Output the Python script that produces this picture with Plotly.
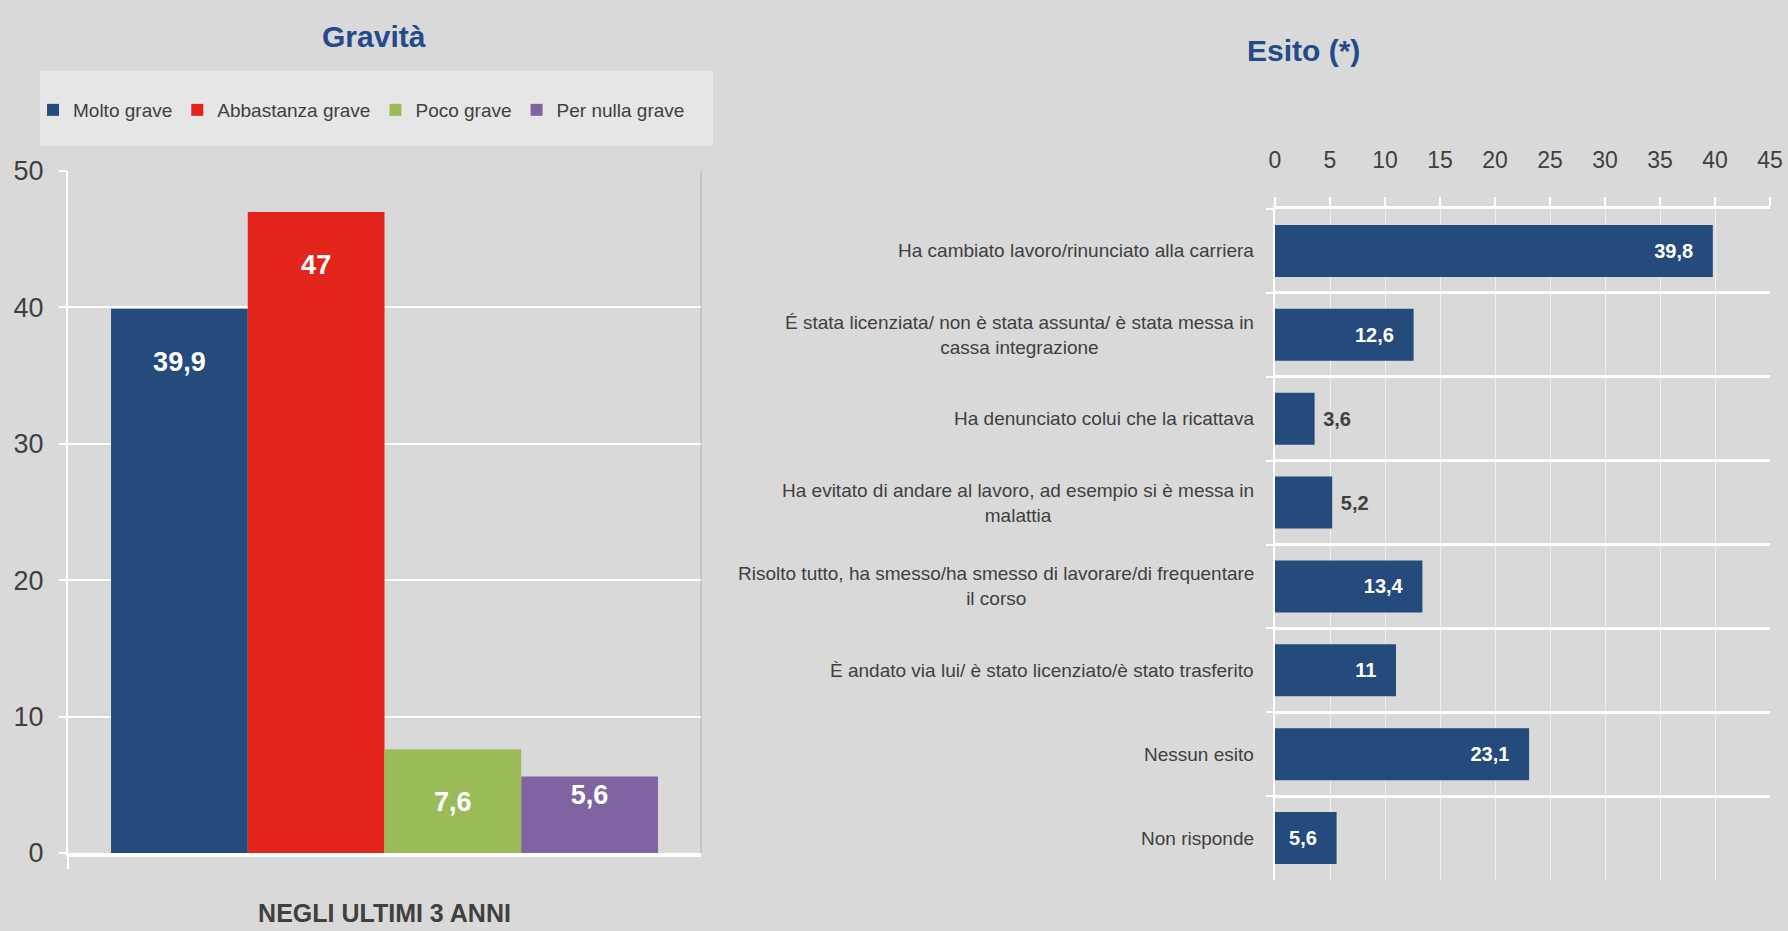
import plotly.graph_objects as go

# ---------------- data ----------------
gravita_series = ["Molto grave", "Abbastanza grave", "Poco grave", "Per nulla grave"]
gravita_values = [39.9, 47.0, 7.6, 5.6]
gravita_period = ["NEGLI ULTIMI 3 ANNI"]

esito_categories = [
    "Ha cambiato lavoro/rinunciato alla carriera",
    "É stata licenziata/ non è stata assunta/ è stata messa in<br>cassa integrazione",
    "Ha denunciato colui che la ricattava",
    "Ha evitato di andare al lavoro, ad esempio si è messa in<br>malattia",
    "Risolto tutto, ha smesso/ha smesso di lavorare/di frequentare<br>il corso",
    "È andato via lui/ è stato licenziato/è stato trasferito",
    "Nessun esito",
    "Non risponde",
]
esito_values = [39.8, 12.6, 3.6, 5.2, 13.4, 11.0, 23.1, 5.6]
esito_label_outside = [False, False, True, True, False, False, False, False]

# ---------------- styles ----------------
FONT = "Liberation Sans, Arial, sans-serif"
BG = "#d9d9d9"
TXT = "#404040"
TITLE = "#234b8c"
colors = ["#254a7c", "#e3241b", "#9bbb59", "#8064a2"]
W, H = 1788, 931


def it(v):
    s = f"{v:.1f}".replace(".", ",")
    return s[:-2] if s.endswith(",0") else s


fig = go.Figure()

for name, val, col in zip(gravita_series, gravita_values, colors):
    lbl = it(val)
    txt = ("\u00a0<br>" + lbl) if val > 7 else lbl
    fig.add_trace(go.Bar(
        x=gravita_period, y=[val], name=name, marker=dict(color=col, line=dict(width=0)),
        text=[txt], textposition="inside", insidetextanchor="end", textangle=0,
        constraintext="none",
        textfont=dict(family=FONT, size=27, color="white", weight="bold"),
        xaxis="x", yaxis="y", hoverinfo="skip",
    ))

e_text = ["\u00a0" + it(v) if out else it(v) + "\u00a0\u00a0\u00a0"
          for v, out in zip(esito_values, esito_label_outside)]
e_pos = ["outside" if out else "inside" for out in esito_label_outside]
e_col = [TXT if out else "white" for out in esito_label_outside]
fig.add_trace(go.Bar(
    x=esito_values, y=esito_categories, orientation="h", width=0.62,
    marker=dict(color=colors[0], line=dict(width=0)),
    text=e_text, textposition=e_pos, insidetextanchor="end", textangle=0,
    constraintext="none", cliponaxis=False,
    textfont=dict(family=FONT, size=20, color=e_col, weight="bold"),
    showlegend=False, xaxis="x2", yaxis="y2", hoverinfo="skip",
))

# category labels of the right chart (right-aligned block, centred lines)
annotations = []
for cat in esito_categories:
    annotations.append(dict(
        x=1256 / W, xref="paper", xanchor="right", y=cat, yref="y2", yanchor="middle",
        text=cat, align="center", showarrow=False,
        font=dict(family=FONT, size=19, color=TXT),
    ))
annotations.append(dict(x=374 / W, y=1 - 36 / H, xref="paper", yref="paper", xanchor="center",
                        yanchor="middle", text="Gravità", showarrow=False,
                        font=dict(family=FONT, size=30, color=TITLE, weight="bold")))
annotations.append(dict(x=1303 / W, y=1 - 51 / H, xref="paper", yref="paper", xanchor="center",
                        yanchor="middle", text="Esito (*)", showarrow=False,
                        font=dict(family=FONT, size=30, color=TITLE, weight="bold")))

shapes = [
    dict(type="rect", xref="paper", yref="paper", x0=40 / W, x1=713 / W, y0=1 - 146 / H, y1=1 - 71 / H,
         fillcolor="#e6e6e6", line=dict(width=0), layer="below"),
    dict(type="line", xref="paper", yref="paper", x0=701 / W, x1=701 / W, y0=1 - 853 / H, y1=1 - 171 / H,
         line=dict(color="#bdbdbd", width=1.5), layer="below"),
]

fig.update_layout(
    width=W, height=H, margin=dict(l=0, r=0, t=0, b=0, autoexpand=False),
    paper_bgcolor=BG, plot_bgcolor=BG,
    font=dict(family=FONT, color=TXT),
    barmode="group", bargap=0.136, bargroupgap=0,
    showlegend=True,
    legend=dict(orientation="h", x=33 / W, y=1 - 110 / H, xanchor="left", yanchor="middle",
                bgcolor="rgba(0,0,0,0)", font=dict(family=FONT, size=19, color=TXT),
                itemwidth=30, traceorder="normal"),
    annotations=annotations, shapes=shapes,
    xaxis=dict(domain=[68 / W, 701 / W], anchor="y", type="category", automargin=False,
               tickson="boundaries", ticks="outside", ticklen=12, tickwidth=2, tickcolor="white",
               showline=True, linecolor="white", linewidth=4, showgrid=False,
               tickfont=dict(family=FONT, size=25, color=TXT, weight="bold"), ticklabelstandoff=35),
    yaxis=dict(domain=[1 - 853 / H, 1 - 171 / H], anchor="x", range=[0, 50], dtick=10, automargin=False,
               showline=True, linecolor="white", linewidth=2, ticks="outside", ticklen=7,
               tickwidth=2, tickcolor="white", showgrid=True, gridcolor="white", gridwidth=1.5,
               zeroline=False, tickfont=dict(family=FONT, size=27, color=TXT), ticklabelstandoff=10),
    xaxis2=dict(domain=[1275 / W, 1770 / W], anchor="y2", side="top", range=[0, 45], dtick=5,
                automargin=False,
                showline=True, linecolor="white", linewidth=3, ticks="outside", ticklen=9,
                tickwidth=2, tickcolor="white", showgrid=True, gridcolor="rgba(255,255,255,0.6)",
                gridwidth=1, zeroline=False,
                tickfont=dict(family=FONT, size=23, color=TXT), ticklabelstandoff=20),
    yaxis2=dict(domain=[1 - 880 / H, 1 - 209 / H], anchor="x2", type="category", automargin=False,
                categoryorder="array", categoryarray=esito_categories, range=[7.5, -0.5],
                tickson="boundaries", ticks="outside", ticklen=7, tickwidth=2, tickcolor="white",
                showline=True, linecolor="white", linewidth=2, showgrid=True, gridcolor="white",
                gridwidth=2.5, showticklabels=False),
)

fig.write_html("out.html")
